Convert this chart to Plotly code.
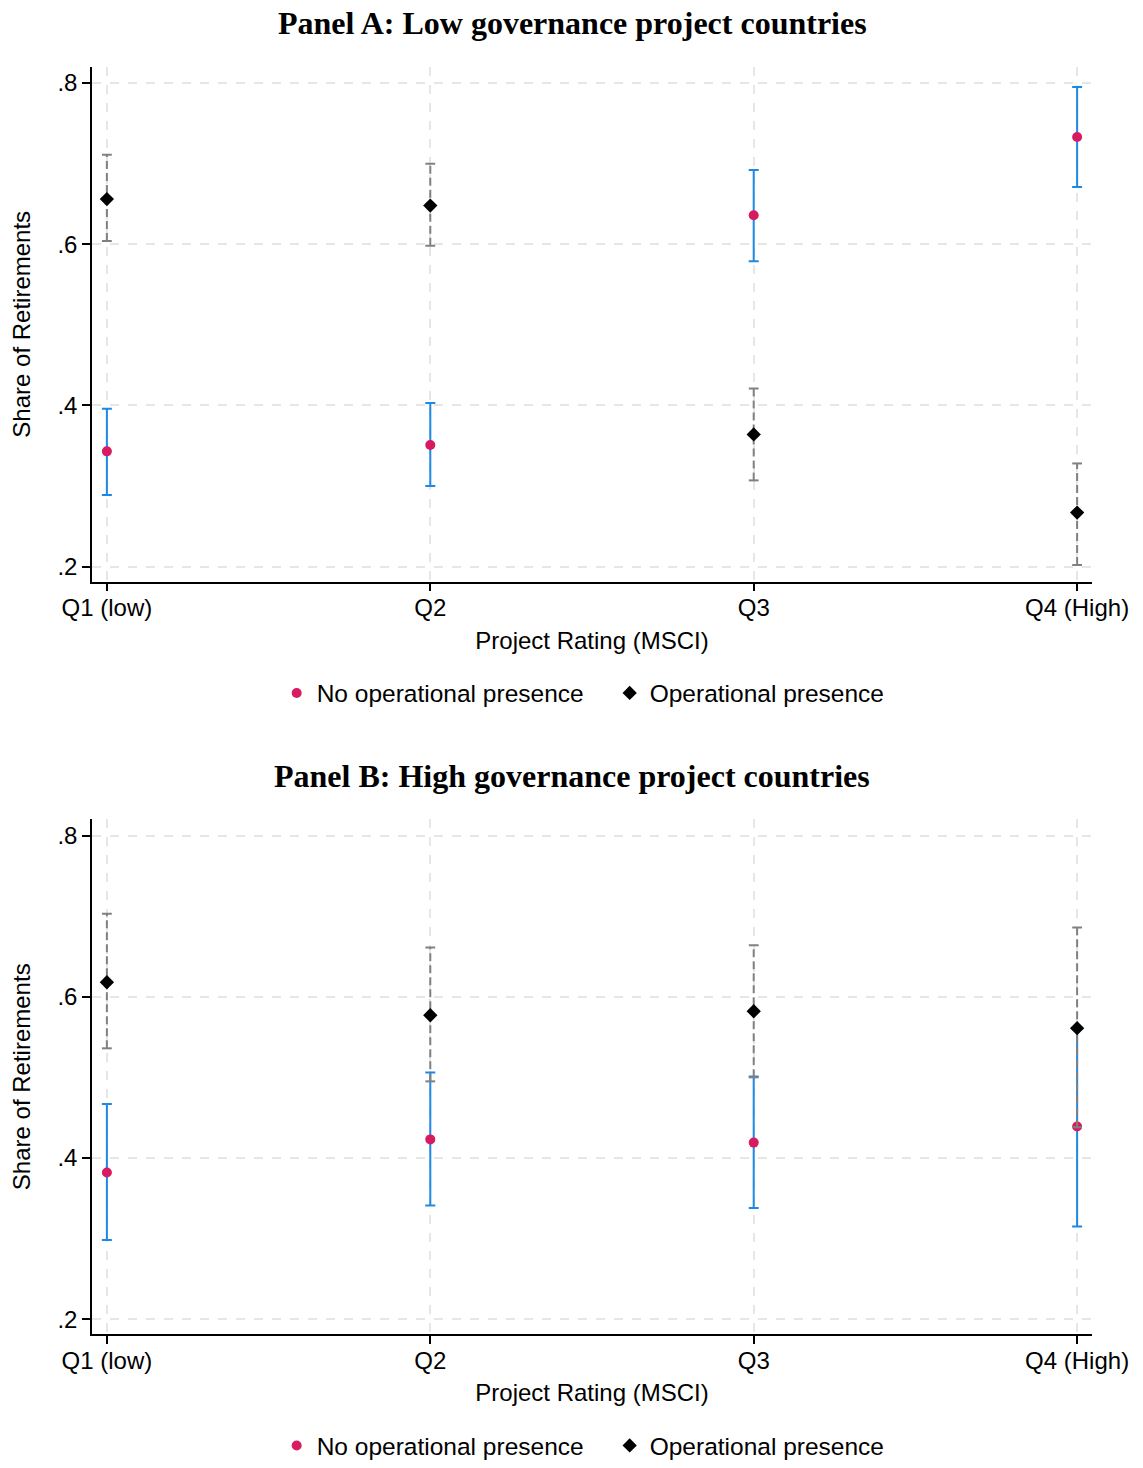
import plotly.graph_objects as go

categories = ["Q1 (low)", "Q2", "Q3", "Q4 (High)"]
xpos = [1, 2, 3, 4]

# Panel A: Low governance
a_noop = [0.343, 0.351, 0.636, 0.733]
a_noop_lo = [0.289, 0.300, 0.579, 0.671]
a_noop_hi = [0.396, 0.403, 0.692, 0.795]
a_op = [0.656, 0.648, 0.364, 0.267]
a_op_lo = [0.604, 0.598, 0.307, 0.202]
a_op_hi = [0.711, 0.700, 0.421, 0.328]

# Panel B: High governance
b_noop = [0.382, 0.423, 0.419, 0.439]
b_noop_lo = [0.298, 0.341, 0.338, 0.315]
b_noop_hi = [0.467, 0.506, 0.501, 0.562]
b_op = [0.618, 0.577, 0.582, 0.561]
b_op_lo = [0.536, 0.495, 0.500, 0.438]
b_op_hi = [0.703, 0.661, 0.664, 0.686]

ytickvals = [0.2, 0.4, 0.6, 0.8]
yticktext = [".2", ".4", ".6", ".8"]

PINK = "#D81B60"
BLUE = "#1E88E5"
GRAY = "#808080"
FONT = "Liberation Sans, Arial, sans-serif"
FS = 24

fig = go.Figure()

def add_panel(xa, ya, legend, noop, nlo, nhi, op, olo, ohi):
    fig.add_trace(go.Scatter(
        x=xpos, y=noop, mode="markers", xaxis=xa, yaxis=ya, legend=legend,
        name="No operational presence",
        marker=dict(symbol="circle", size=10, color=PINK),
        error_y=dict(type="data", symmetric=False,
                     array=[h - v for h, v in zip(nhi, noop)],
                     arrayminus=[v - l for v, l in zip(noop, nlo)],
                     color=BLUE, thickness=2, width=5),
    ))
    lx, ly = [], []
    for x, l, h in zip(xpos, olo, ohi):
        lx += [x, x, None]
        ly += [l, h, None]
    fig.add_trace(go.Scatter(
        x=lx, y=ly, mode="lines", xaxis=xa, yaxis=ya, showlegend=False,
        line=dict(color=GRAY, width=2, dash="8px,4px"), hoverinfo="skip",
    ))
    fig.add_trace(go.Scatter(
        x=xpos + xpos, y=olo + ohi, mode="markers", xaxis=xa, yaxis=ya,
        showlegend=False, hoverinfo="skip",
        marker=dict(symbol="line-ew", size=7, line=dict(color=GRAY, width=2)),
    ))
    fig.add_trace(go.Scatter(
        x=xpos, y=op, mode="markers", xaxis=xa, yaxis=ya, legend=legend,
        name="Operational presence",
        marker=dict(symbol="diamond", size=11, color="black"),
    ))

add_panel("x", "y", "legend", a_noop, a_noop_lo, a_noop_hi, a_op, a_op_lo, a_op_hi)
add_panel("x2", "y2", "legend2", b_noop, b_noop_lo, b_noop_hi, b_op, b_op_lo, b_op_hi)

W, H = 1143, 1468
xdom = [92 / W, 1092 / W]
ydomA = [1 - 582 / H, 1 - 67 / H]
ydomB = [1 - 1335 / H, 1 - 820 / H]

xcommon = dict(
    range=[0.954, 4.046], tickvals=xpos, ticktext=categories,
    showline=True, linecolor="black", linewidth=1.5, ticks="outside",
    ticklen=8, tickwidth=1.5, tickcolor="black", ticklabelstandoff=-4,
    showgrid=True, gridcolor="#e6e6e6", griddash="dash", gridwidth=1.5,
    zeroline=False, tickfont=dict(family=FONT, size=FS, color="black"),
    title=dict(text="Project Rating (MSCI)", font=dict(family=FONT, size=FS, color="black"), standoff=12),
    domain=xdom, mirror=False, automargin=False,
)
ycommon = dict(
    range=[0.1814, 0.82], tickvals=ytickvals, ticktext=yticktext,
    showline=True, linecolor="black", linewidth=1.5, ticks="outside",
    ticklen=8, tickwidth=1.5, tickcolor="black",
    showgrid=True, gridcolor="#e6e6e6", griddash="dash", gridwidth=1.5,
    zeroline=False, tickfont=dict(family=FONT, size=FS, color="black"),
    title=dict(text="Share of Retirements", font=dict(family=FONT, size=FS, color="black"), standoff=20),
    automargin=False,
)

legcommon = dict(orientation="h", x=0.5334, xanchor="center", yanchor="middle",
                 font=dict(family=FONT, size=24.5, color="black"), bgcolor="rgba(0,0,0,0)",
                 entrywidth=288, entrywidthmode="pixels")

fig.update_layout(
    width=W, height=H, margin=dict(l=0, r=0, t=0, b=0),
    paper_bgcolor="white", plot_bgcolor="white",
    xaxis=dict(xcommon, anchor="y"),
    yaxis=dict(ycommon, domain=ydomA, anchor="x"),
    xaxis2=dict(xcommon, anchor="y2"),
    yaxis2=dict(ycommon, domain=ydomB, anchor="x2"),
    legend=dict(legcommon, y=1 - 693 / H),
    legend2=dict(legcommon, y=1 - 1446 / H),
    annotations=[
        dict(text="<b>Panel A: Low governance project countries</b>", x=572 / W, y=1 - 23 / H,
             xref="paper", yref="paper", showarrow=False, xanchor="center", yanchor="middle",
             font=dict(family="Liberation Serif, Times New Roman, serif", size=32, color="black")),
        dict(text="<b>Panel B: High governance project countries</b>", x=572 / W, y=1 - 777 / H,
             xref="paper", yref="paper", showarrow=False, xanchor="center", yanchor="middle",
             font=dict(family="Liberation Serif, Times New Roman, serif", size=32, color="black")),
    ],
)

fig.write_html("out.html")
